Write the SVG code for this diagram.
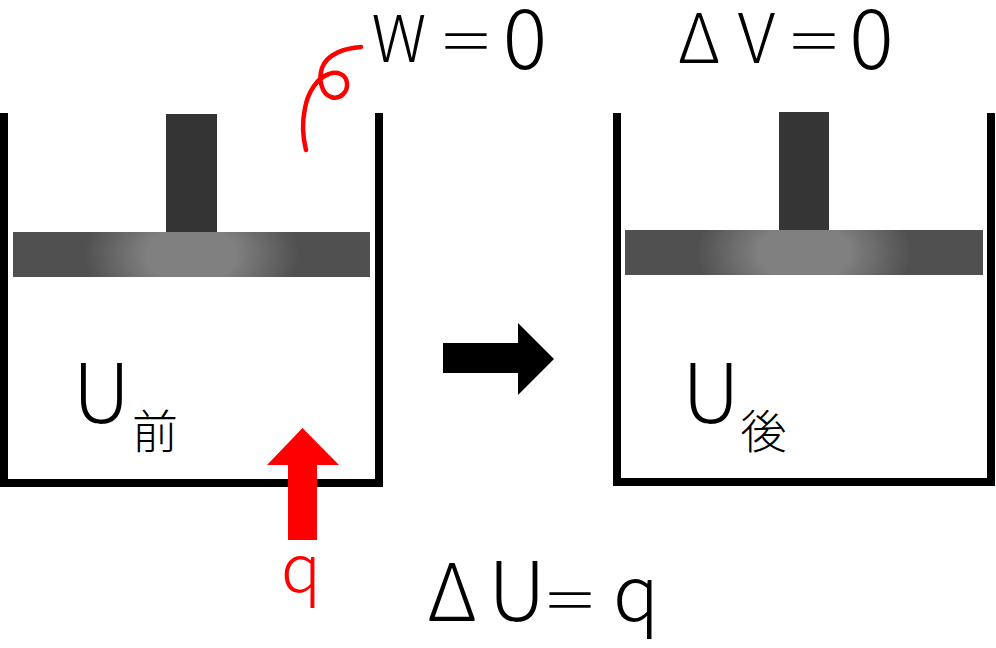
<svg xmlns="http://www.w3.org/2000/svg" width="996" height="648" viewBox="0 0 996 648">
<defs>
<radialGradient id="plateL" gradientUnits="userSpaceOnUse" cx="191.5" cy="254.5" r="178.5" gradientTransform="translate(191.5 254.5) scale(1 0.65) translate(-191.5 -254.5)">
<stop offset="0" stop-color="#808080"/>
<stop offset="0.25" stop-color="#808080"/>
<stop offset="0.6" stop-color="#505050"/>
<stop offset="1" stop-color="#505050"/>
</radialGradient>
<radialGradient id="plateR" gradientUnits="userSpaceOnUse" cx="804" cy="252.5" r="179" gradientTransform="translate(804 252.5) scale(1 0.65) translate(-804 -252.5)">
<stop offset="0" stop-color="#808080"/>
<stop offset="0.25" stop-color="#808080"/>
<stop offset="0.6" stop-color="#505050"/>
<stop offset="1" stop-color="#505050"/>
</radialGradient>
</defs>
<style>
.wall{fill:none;stroke:#000;stroke-width:8;stroke-linejoin:miter;stroke-linecap:butt}
.rod{fill:#333333}
text{font-family:"Noto Sans CJK JP","Noto Sans",sans-serif;font-weight:300;fill:#000}
.red{fill:#ff0000}
</style>
<rect width="996" height="648" fill="#fff"/>
<g id="container-before">
<polyline class="wall" points="4,113 4,483 379,483 379,113"/>
<rect class="rod" x="166" y="114" width="51" height="118"/>
<rect x="13" y="232" width="357" height="45" fill="url(#plateL)"/>
<text x="101.5" y="423" font-size="82" text-anchor="middle">U</text>
<text x="155" y="448" font-size="46" text-anchor="middle">前</text>
</g>
<g id="container-after">
<polyline class="wall" points="617,113 617,482 991,482 991,113"/>
<rect class="rod" x="779" y="112" width="50" height="118" style="fill:#353535"/>
<rect x="625" y="230" width="358" height="45" fill="url(#plateR)"/>
<text x="711" y="423" font-size="82" text-anchor="middle">U</text>
<text x="763.5" y="448" font-size="46" text-anchor="middle">後</text>
</g>
<g id="label-w">
<text y="62" font-size="64" text-anchor="middle"><tspan x="399">W</tspan></text>
<text y="62" font-size="56" text-anchor="middle"><tspan x="466">＝</tspan></text>
<text y="69" font-size="83" text-anchor="middle"><tspan x="525">0</tspan></text>
</g>
<g id="label-dv">
<text y="63" font-size="68" text-anchor="middle"><tspan x="699">Δ</tspan><tspan x="756.5">V</tspan></text>
<text y="62" font-size="56" text-anchor="middle"><tspan x="814">＝</tspan></text>
<text y="69" font-size="83" text-anchor="middle"><tspan x="871.5">0</tspan></text>
</g>
<g id="label-du">
<text y="621" font-size="80" text-anchor="middle"><tspan x="452">Δ</tspan><tspan x="517" font-size="82">U</tspan></text>
<text y="621" font-size="56" text-anchor="middle"><tspan x="570">＝</tspan></text>
<text y="621" font-size="76" text-anchor="middle"><tspan x="636">q</tspan></text>
</g>
<g id="heat">
<polygon class="red" points="288,540 317,540 317,465 339,465 302.5,428 267,465 288,465"/>
<text class="red" x="301" y="592" font-size="66" text-anchor="middle">q</text>
</g>
<g id="connectors">
<polygon points="443,343 518,343 518,323 554,359 518,395 518,373 443,373" fill="#000"/>
<path d="M361,47 C345,48 327,54 322,68 C318,80 322,94 331,97 C340,100 348,92 347,83 C346,74 337,71 329,74 C317,78 308,92 305,108 C302,122 303,138 306,150" fill="none" stroke="#ff0000" stroke-width="4.5" stroke-linecap="round"/>
</g>
</svg>
